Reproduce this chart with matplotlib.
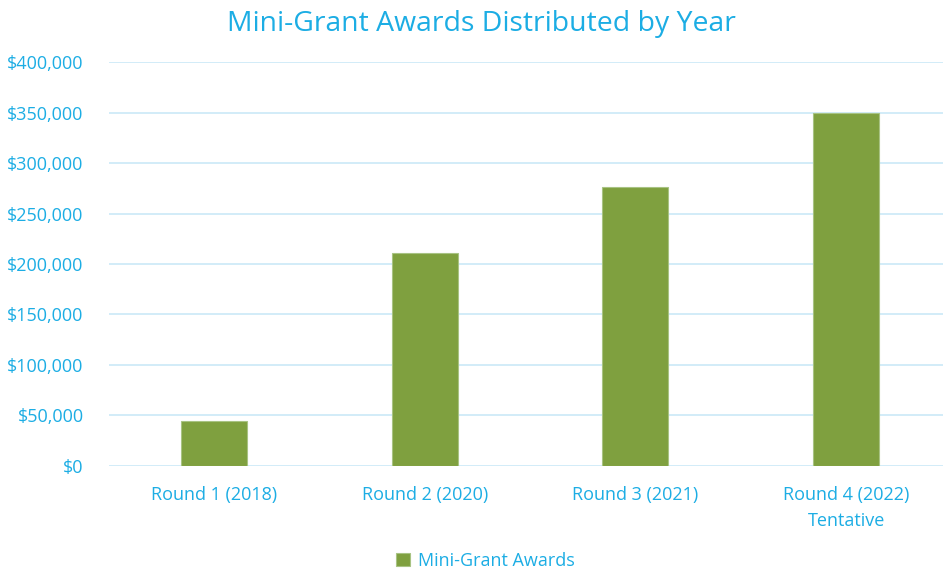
import numpy as np
import matplotlib
matplotlib.use("Agg")
import matplotlib.pyplot as plt
from matplotlib.ticker import FuncFormatter

# data
categories = ["Round 1 (2018)", "Round 2 (2020)", "Round 3 (2021)", "Round 4 (2022)\nTentative"]
awards = [44300, 210600, 276600, 349800]
y_ticks = [0, 50000, 100000, 150000, 200000, 250000, 300000, 350000, 400000]

TEXT_BLUE = "#1CADE4"
BAR_GREEN = "#7FA03F"
GRID_BLUE = "#CBE9F7"

plt.rcParams["font.family"] = ["Open Sans", "DejaVu Sans"]

fig = plt.figure(figsize=(9.43, 5.71), dpi=100)
ax = fig.add_axes([0.1152, 0.1844, 0.8848, 0.7065])

x = np.arange(len(categories))
ax.bar(x, awards, width=0.313, color=BAR_GREEN, edgecolor="#A8C383",
       linewidth=0.8, label="Mini-Grant Awards", zorder=3)

ax.set_ylim(0, 400000)
ax.set_xlim(-0.5, 3.46)
ax.set_yticks(y_ticks)
ax.yaxis.set_major_formatter(FuncFormatter(lambda v, _: f"${v:,.0f}"))
ax.set_xticks(x)
ax.set_xticklabels(categories, linespacing=1.6)

ax.grid(axis="y", color=GRID_BLUE, linewidth=1.2, zorder=0)
for s in ax.spines.values():
    s.set_visible(False)
ax.tick_params(axis="both", length=0, colors=TEXT_BLUE, labelsize=13)
ax.tick_params(axis="y", pad=18)
ax.tick_params(axis="x", pad=14.5)

fig.text(0.511, 0.958, "Mini-Grant Awards Distributed by Year", ha="center",
         va="center", fontsize=20.4, color=TEXT_BLUE)

fig.legend(loc="center", bbox_to_anchor=(0.515, 0.018), frameon=False,
           fontsize=13, labelcolor=TEXT_BLUE, handlelength=0.75, handleheight=0.75,
           handletextpad=0.45)

fig.savefig("out.png", dpi=100)
